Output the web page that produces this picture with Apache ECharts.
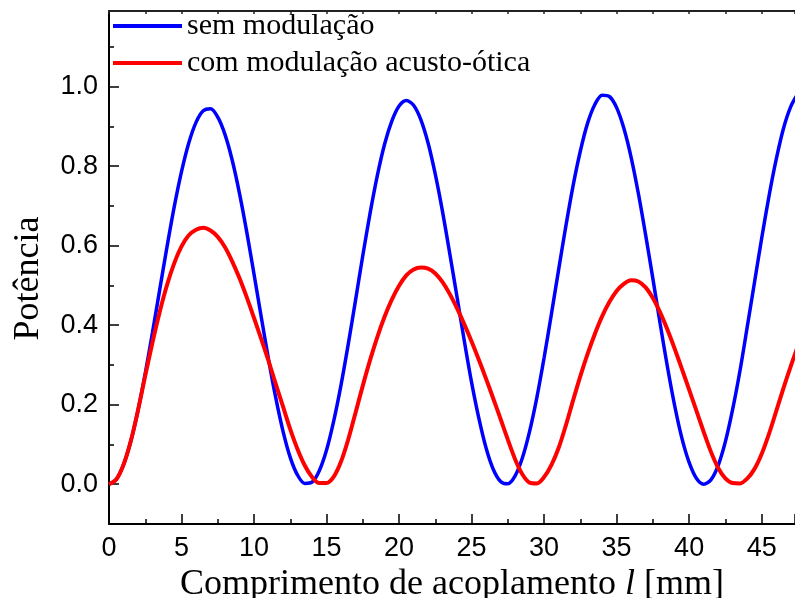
<!DOCTYPE html>
<html>
<head>
<meta charset="utf-8">
<script src="https://cdn.jsdelivr.net/npm/echarts@6/dist/echarts.min.js"></script>
<style>html,body{margin:0;padding:0;background:#fff}#c{width:795px;height:598px}</style>
</head>
<body>
<div id="c"></div>
<script>
// coupling length l [mm], step 0.5
const lengths = [0,0.5,1,1.5,2,2.5,3,3.5,4,4.5,5,5.5,6,6.5,7,7.5,8,8.5,9,9.5,10,10.5,11,11.5,12,12.5,13,13.5,14,14.5,15,15.5,16,16.5,17,17.5,18,18.5,19,19.5,20,20.5,21,21.5,22,22.5,23,23.5,24,24.5,25,25.5,26,26.5,27,27.5,28,28.5,29,29.5,30,30.5,31,31.5,32,32.5,33,33.5,34,34.5,35,35.5,36,36.5,37,37.5,38,38.5,39,39.5,40,40.5,41,41.5,42,42.5,43,43.5,44,44.5,45,45.5,46,46.5,47,47.5];
const semModulacao = [0,0.012,0.049,0.108,0.186,0.279,0.382,0.490,0.597,0.698,0.786,0.858,0.910,0.939,0.944,0.923,0.879,0.814,0.731,0.634,0.528,0.420,0.314,0.217,0.133,0.067,0.023,0.002,0.005,0.034,0.086,0.160,0.250,0.353,0.463,0.575,0.681,0.776,0.855,0.913,0.951,0.965,0.953,0.917,0.858,0.779,0.685,0.579,0.470,0.360,0.256,0.166,0.091,0.037,0.007,0.001,0.021,0.066,0.133,0.218,0.318,0.427,0.539,0.649,0.751,0.838,0.908,0.955,0.978,0.975,0.947,0.895,0.822,0.731,0.627,0.517,0.404,0.296,0.198,0.116,0.055,0.015,0.000,0.011,0.047,0.107,0.188,0.284,0.394,0.506,0.618,0.723,0.816,0.894,0.949,0.982];
const comModulacao = [0,0.012,0.049,0.108,0.186,0.273,0.357,0.434,0.501,0.556,0.598,0.626,0.640,0.645,0.638,0.622,0.596,0.560,0.518,0.470,0.418,0.365,0.310,0.252,0.195,0.138,0.088,0.047,0.018,0.003,0.003,0.019,0.057,0.113,0.180,0.248,0.312,0.370,0.421,0.464,0.499,0.525,0.540,0.545,0.542,0.530,0.508,0.478,0.442,0.402,0.359,0.313,0.265,0.215,0.164,0.112,0.063,0.025,0.004,0.002,0.018,0.048,0.091,0.148,0.211,0.272,0.328,0.378,0.422,0.458,0.486,0.504,0.513,0.510,0.495,0.468,0.432,0.389,0.341,0.290,0.238,0.185,0.132,0.082,0.041,0.015,0.003,0.002,0.014,0.038,0.076,0.126,0.183,0.241,0.296,0.348];
const yMajorTicks = [0,0.2,0.4,0.6,0.8,1.0];
const yMinorTicks = [-0.1,0.1,0.3,0.5,0.7,0.9,1.1];
const seriesNames = ['sem modulação','com modulação acusto-ótica'];

const pair = (ys) => lengths.map((x,i)=>[x, ys[i]]);
const chart = echarts.init(document.getElementById('c'), null, {renderer:'canvas'});
const sans = 'Liberation Sans';
const serif = 'Liberation Serif';
chart.setOption({
  animation:false,
  backgroundColor:'#fff',
  grid:{left:109,right:0,top:11,bottom:74,containLabel:false,outerBoundsMode:'none'},
  legend:{
    left:108, top:6, orient:'vertical', itemGap:7,
    itemWidth:69, itemHeight:4, icon:'rect',
    textStyle:{fontFamily:serif,fontSize:30,color:'#000',lineHeight:30},
    data:seriesNames
  },
  xAxis:[{
    type:'value', min:0, max:47.3, interval:5, position:'bottom',
    axisLine:{show:true,onZero:false,lineStyle:{color:'#000',width:2}},
    axisTick:{show:true,inside:true,length:10,lineStyle:{color:'#000',width:1.5}},
    minorTick:{show:true,splitNumber:2,length:5,lineStyle:{color:'#000',width:1.5}},
    splitLine:{show:false},
    axisLabel:{fontFamily:sans,fontSize:27,color:'#000',margin:11,showMaxLabel:false},
    name:'{a|Comprimento de acoplamento }{i|l}{a| [mm]}',
    nameLocation:'middle', nameGap:43,
    nameTextStyle:{rich:{a:{fontFamily:serif,fontSize:36,color:'#000'},i:{fontFamily:serif,fontStyle:'italic',fontSize:36,color:'#000'}}}
  },{
    type:'value', min:0, max:47.3, interval:2.5, position:'top',
    axisLine:{show:true,onZero:false,lineStyle:{color:'#222',width:2}},
    axisTick:{show:true,inside:true,length:3,lineStyle:{color:'#222',width:1.5}},
    axisLabel:{show:false}, splitLine:{show:false}
  }],
  yAxis:[{
    type:'value', min:-0.1, max:1.19, interval:0.1, position:'left',
    axisLine:{show:true,onZero:false,lineStyle:{color:'#000',width:2}},
    axisTick:{show:true,inside:true,length:10,customValues:yMajorTicks,lineStyle:{color:'#000',width:1.5}},
    axisLabel:{fontFamily:sans,fontSize:27,color:'#000',margin:11,customValues:yMajorTicks,formatter:v=>v.toFixed(1)},
    splitLine:{show:false},
    name:'Potência', nameLocation:'middle', nameGap:62, nameRotate:90,
    nameTextStyle:{fontFamily:serif,fontSize:36,color:'#000',padding:[0,22,0,0]}
  },{
    type:'value', min:-0.1, max:1.19, interval:0.1, position:'left',
    axisLine:{show:false},
    axisTick:{show:true,inside:true,length:5,customValues:yMinorTicks,lineStyle:{color:'#000',width:1.5}},
    axisLabel:{show:false}, splitLine:{show:false}
  }],
  series:[{
    name:seriesNames[0], type:'line', xAxisIndex:0, yAxisIndex:0,
    data:pair(semModulacao), showSymbol:false, smooth:0.3, clip:true,
    itemStyle:{color:'#0000ff'}, lineStyle:{color:'#0000ff',width:3.5}
  },{
    name:seriesNames[1], type:'line', xAxisIndex:0, yAxisIndex:0,
    data:pair(comModulacao), showSymbol:false, smooth:0.3, clip:true,
    itemStyle:{color:'#ff0000'}, lineStyle:{color:'#ff0000',width:4}
  }]
});
</script>
</body>
</html>
